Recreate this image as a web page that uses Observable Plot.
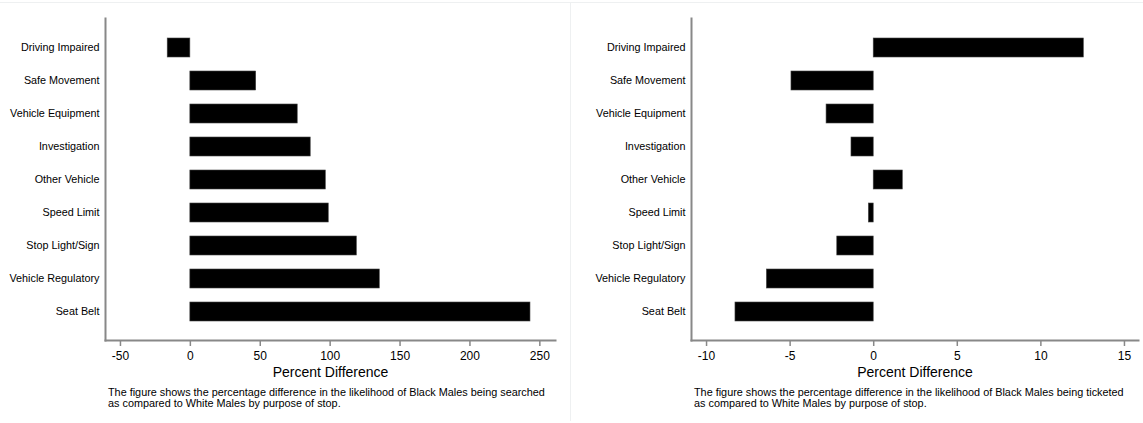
<!DOCTYPE html>
<html><head><meta charset="utf-8">
<script src="https://cdn.jsdelivr.net/npm/d3@7"></script>
<script src="https://cdn.jsdelivr.net/npm/@observablehq/plot@0.6"></script>
<style>
body{margin:0;background:#fff;font-family:"Liberation Sans",Arial,sans-serif;}
#wrap{position:relative;width:1143px;height:423px;overflow:hidden;}
.line-h{position:absolute;left:0;top:2px;width:1143px;height:1px;background:#eef0f1;}
.line-v{position:absolute;left:570px;top:2px;width:1px;height:419px;background:#eef0f1;}
#c1,#c2{position:absolute;top:0;}
#c1{left:0;}
#c2{left:571px;}
.cap{position:absolute;top:387px;font-size:10.85px;line-height:10.6px;color:#000;white-space:nowrap;}
#cap1{left:108px;}
#cap2{left:694px;}
</style>
</head><body>
<div id="wrap">
  <div class="line-h"></div>
  <div class="line-v"></div>
  <div id="c1"></div>
  <div id="c2"></div>
  <div class="cap" id="cap1"></div>
  <div class="cap" id="cap2"></div>
</div>
<script>
const categories = ["Driving Impaired","Safe Movement","Vehicle Equipment","Investigation","Other Vehicle","Speed Limit","Stop Light/Sign","Vehicle Regulatory","Seat Belt"];
const searchedPct = [-16.2, 47.1, 76.8, 86.1, 96.9, 99.0, 119.1, 135.5, 243.3];
const ticketedPct = [12.57, -4.92, -2.82, -1.33, 1.74, -0.29, -2.18, -6.39, -8.27];
const searchedTicks = [-50, 0, 50, 100, 150, 200, 250];
const ticketedTicks = [-10, -5, 0, 5, 10, 15];
const axisLabel = "Percent Difference";
const caption1 = ["The figure shows the percentage difference in the likelihood of Black Males being searched", "as compared to White Males by purpose of stop."];
const caption2 = ["The figure shows the percentage difference in the likelihood of Black Males being ticketed", "as compared to White Males by purpose of stop."];

function panel(values, domain, ticks, width, marginLeft, marginRight) {
  const data = categories.map((c, i) => ({category: c, value: values[i]}));
  return Plot.plot({
    width, height: 384,
    marginLeft, marginRight, marginTop: 18, marginBottom: 44,
    style: {fontFamily: "'Liberation Sans', Arial, sans-serif", color: "#000", background: "transparent"},
    x: {domain, ticks, label: null},
    y: {domain: categories, paddingInner: 0.428, paddingOuter: 0.563, label: null},
    marks: [
      Plot.barX(data, {x: "value", y: "category", fill: "#000", stroke: "#444", strokeWidth: 0.6}),
      Plot.frame({anchor: "left", stroke: "#888", strokeWidth: 2}),
      Plot.frame({anchor: "bottom", stroke: "#888", strokeWidth: 2}),
      Plot.axisY({tickSize: 0, tickPadding: 6, fontSize: 10.8, label: null}),
      Plot.axisX({ticks, tickSize: 6, tickPadding: 5, fontSize: 12, stroke: "#888", strokeWidth: 1.5, label: null, tickFormat: d => String(d)}),
      Plot.text([axisLabel], {frameAnchor: "bottom", dy: 36.5, fontSize: 14, fill: "#000"})
    ]
  });
}

document.getElementById("c1").appendChild(panel(searchedPct, [-60.7, 261.2], searchedTicks, 570, 105, 15));
document.getElementById("c2").appendChild(panel(ticketedPct, [-10.9, 15.84], ticketedTicks, 572, 120, 5));
document.getElementById("cap1").innerHTML = caption1.join("<br>");
document.getElementById("cap2").innerHTML = caption2.join("<br>");
</script>
</body></html>
